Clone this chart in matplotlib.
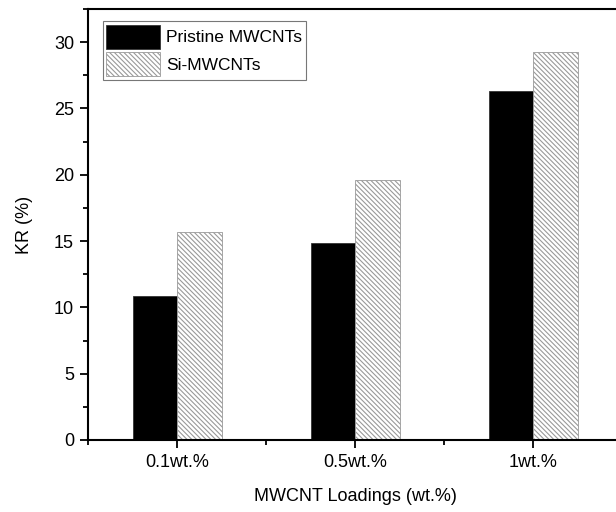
import numpy as np
import matplotlib.pyplot as plt
from matplotlib.ticker import MultipleLocator, FixedLocator

plt.rcParams['font.family'] = ['Liberation Sans', 'DejaVu Sans']
plt.rcParams['hatch.linewidth'] = 0.8
plt.rcParams['hatch.color'] = '#666666'

# KR values for each MWCNT loading
loadings = ['0.1wt.%', '0.5wt.%', '1wt.%']
pristine = [10.85, 14.85, 26.3]
si_mwcnt = [15.7, 19.6, 29.25]

fig = plt.figure(figsize=(6.16, 5.12), dpi=100)
# axes run past the right edge of the canvas
ax = fig.add_axes([88 / 616, 72 / 512, 534 / 616, 431 / 512])

x = np.arange(1, len(loadings) + 1)
w = 0.25
ax.bar(x - w / 2, pristine, w, color='black', edgecolor='#333333', linewidth=0.6,
       label='Pristine MWCNTs')
ax.bar(x + w / 2, si_mwcnt, w, color='white', edgecolor='#999999', linewidth=0.6,
       hatch='\\' * 7, label='Si-MWCNTs')

ax.set_xlim(0.5, 3.5)
ax.set_ylim(0, 32.5)
ax.set_xticks(x)
ax.set_xticklabels(loadings)
ax.xaxis.set_minor_locator(FixedLocator([0.5, 1.5, 2.5, 3.5]))
ax.yaxis.set_major_locator(MultipleLocator(5))
ax.yaxis.set_minor_locator(MultipleLocator(2.5))
ax.tick_params(which='major', direction='out', length=6, width=1.3, labelsize=13, pad=4)
ax.tick_params(which='minor', direction='out', length=3.5, width=1.3)
ax.tick_params(axis='x', which='both', top=False)
for s in ax.spines.values():
    s.set_linewidth(1.5)

ax.set_xlabel('MWCNT Loadings (wt.%)', fontsize=13, labelpad=12)
ax.set_ylabel('KR (%)', fontsize=13, labelpad=15)

leg = ax.legend(loc='upper left', bbox_to_anchor=(0.028, 0.972), fontsize=12.5,
                fancybox=False, edgecolor='#777777', framealpha=1,
                handlelength=3.1, handleheight=1.8, handletextpad=0.35,
                labelspacing=0.15, borderpad=0.2, borderaxespad=0)
leg.get_frame().set_linewidth(0.8)

fig.savefig('out.png', dpi=100)
